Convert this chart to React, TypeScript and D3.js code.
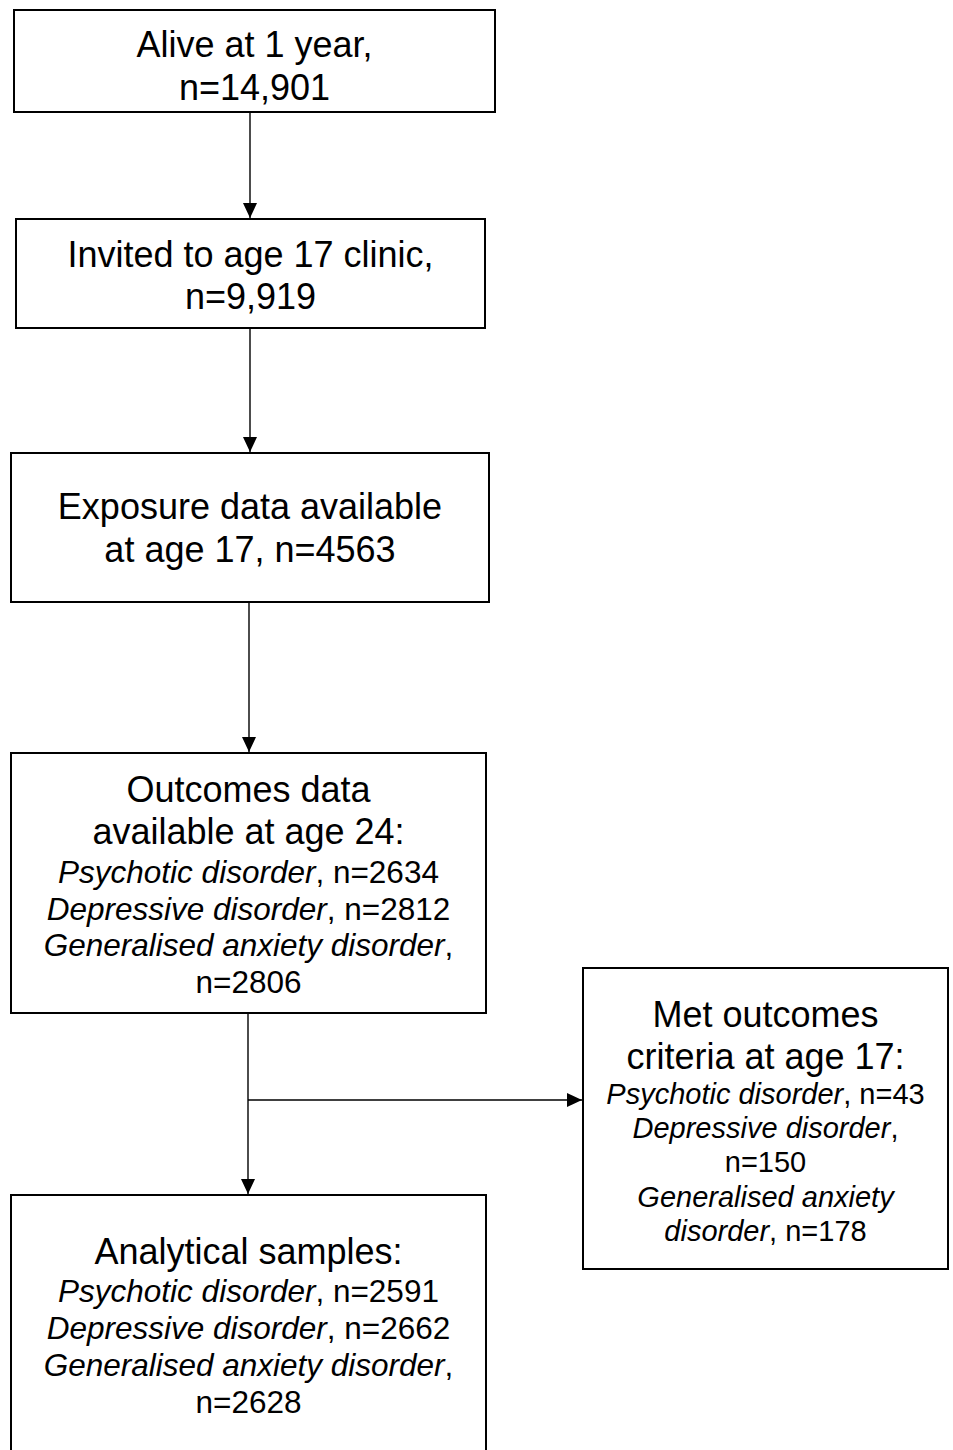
import * as d3 from 'd3'

// flowchart content
const stageHeadings = [
  ['Alive at 1 year,', 'n=14,901'],
  ['Invited to age 17 clinic,', 'n=9,919'],
  ['Exposure data available', 'at age 17, n=4563'],
  ['Outcomes data', 'available at age 24:'],
  ['Met outcomes', 'criteria at age 17:'],
  ['Analytical samples:'],
]
const disorders = ['Psychotic disorder', 'Depressive disorder', 'Generalised anxiety disorder']
const outcomesN = ['2634', '2812', '2806']
const excludedN = ['43', '150', '178']
const analyticalN = ['2591', '2662', '2628']

type Seg = { t: string; it?: boolean }

// wrap used by the two wide boxes
let wideLines = (n: string[]): Seg[][] => [
  [{ t: disorders[0], it: true }, { t: ', n=' + n[0] }],
  [{ t: disorders[1], it: true }, { t: ', n=' + n[1] }],
  [{ t: disorders[2], it: true }, { t: ',' }],
  [{ t: 'n=' + n[2] }],
]

// narrow box on the right wraps differently
let narrowLines = (n: string[]): Seg[][] => {
  let words = disorders[2].split(' ')
  return [
    [{ t: disorders[0], it: true }, { t: ', n=' + n[0] }],
    [{ t: disorders[1], it: true }, { t: ',' }],
    [{ t: 'n=' + n[1] }],
    [{ t: words.slice(0, 2).join(' '), it: true }],
    [{ t: words[2], it: true }, { t: ', n=' + n[2] }],
  ]
}

const FONT = '"Liberation Sans", Arial, Helvetica, sans-serif'

let App = () => {
  let width = 953
  let height = 1450

  // box geometry + first baseline and line steps
  let boxes = [
    { x: 14, y: 10, w: 481, h: 102, first: 47, headStep: 43, details: [] as Seg[][], fs: 0, step: 0, gap: 0 },
    { x: 16, y: 219, w: 469, h: 109, first: 48, headStep: 42, details: [] as Seg[][], fs: 0, step: 0, gap: 0 },
    { x: 11, y: 453, w: 478, h: 149, first: 66, headStep: 43, details: [] as Seg[][], fs: 0, step: 0, gap: 0 },
    { x: 11, y: 753, w: 475, h: 260, first: 49, headStep: 42, details: wideLines(outcomesN), fs: 31.5, step: 36.5, gap: 39 },
    { x: 583, y: 968, w: 365, h: 301, first: 59, headStep: 42, details: narrowLines(excludedN), fs: 29, step: 34.2, gap: 35 },
    { x: 11, y: 1195, w: 475, h: 290, first: 69, headStep: 42, details: wideLines(analyticalN), fs: 31.5, step: 37, gap: 38 },
  ]

  let line = d3.line()

  let connectors: [number, number][][] = [
    [[250, 112], [250, 218]],
    [[250, 328], [250, 452]],
    [[249, 602], [249, 752]],
    [[248, 1013], [248, 1194]],
    [[248, 1100], [582, 1100]],
  ]

  let head = (pts: [number, number][]) => {
    let [a, b] = [pts[0], pts[pts.length - 1]]
    let ang = Math.atan2(b[1] - a[1], b[0] - a[0])
    let len = 15
    let half = 7
    let bx = b[0] - len * Math.cos(ang)
    let by = b[1] - len * Math.sin(ang)
    let px = -Math.sin(ang) * half
    let py = Math.cos(ang) * half
    let p = d3.path()
    p.moveTo(b[0], b[1])
    p.lineTo(bx + px, by + py)
    p.lineTo(bx - px, by - py)
    p.closePath()
    return p.toString()
  }

  return (
    <svg width={width} height={height} style={{ position: 'absolute', left: 0, top: 0, background: '#fff' }}
      fontFamily={FONT}>
      <rect x={0} y={0} width={width} height={height} fill="#fff" />
      {connectors.map((c, i) => (
        <g key={'c' + i}>
          <path d={line(c) || ''} stroke="#000" strokeWidth={1.4} fill="none" />
          <path d={head(c)} fill="#000" />
        </g>
      ))}
      {boxes.map((b, i) => {
        let cx = b.x + b.w / 2
        let heads = stageHeadings[i]
        let lastHead = b.y + b.first + (heads.length - 1) * b.headStep
        return (
          <g key={'b' + i}>
            <rect x={b.x} y={b.y} width={b.w} height={b.h} fill="#fff" stroke="#000" strokeWidth={2} />
            {heads.map((h, j) => (
              <text key={j} x={cx} y={b.y + b.first + j * b.headStep} textAnchor="middle" fontSize={36} fill="#000">{h}</text>
            ))}
            {b.details.map((segs, j) => (
              <text key={'d' + j} x={cx} y={lastHead + b.gap + j * b.step} textAnchor="middle" fontSize={b.fs} fill="#000">
                {segs.map((s, k) => (
                  <tspan key={k} fontStyle={s.it ? 'italic' : 'normal'}>{s.t}</tspan>
                ))}
              </text>
            ))}
          </g>
        )
      })}
    </svg>
  )
}

export default App
